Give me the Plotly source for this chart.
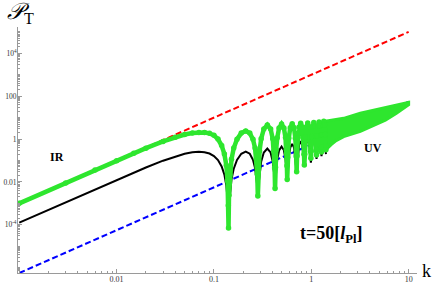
import plotly.graph_objects as go

# ---------------- data ----------------
red_k = [0.001, 10]
red_p = [0.001, 1.0e5]

blue_k = [0.001, 10]
blue_p = [5.6e-7, 56]

black_k = [0.001, 0.003, 0.006, 0.01, 0.02, 0.03, 0.04, 0.05, 0.06, 0.07, 0.08, 0.09, 0.1, 0.11, 0.12, 0.128, 0.134, 0.138, 0.1414,
           0.1428, 0.1456, 0.1513, 0.1598, 0.1725, 0.1909, 0.2121, 0.2333, 0.2517, 0.2644, 0.2729, 0.2786, 0.2814, 0.2828,
           0.2870, 0.2941, 0.3054, 0.3252, 0.3535, 0.3818, 0.4016, 0.4129, 0.4200, 0.4243,
           0.4285, 0.4356, 0.4469, 0.4667, 0.4950, 0.5233, 0.5431, 0.5544, 0.5615, 0.5657,
           0.5728, 0.5869, 0.6081, 0.6364, 0.6647, 0.6859, 0.7000, 0.7071,
           0.7142, 0.7283, 0.7495, 0.7778, 0.8061, 0.8273, 0.8414, 0.8485,
           0.8556, 0.8697, 0.8909, 0.9192, 0.9475, 0.9687, 0.9828, 0.9899,
           0.997, 1.0111, 1.0323, 1.0606, 1.0889, 1.1101, 1.1243, 1.1314,
           1.1385, 1.1526, 1.1738, 1.2021, 1.2304, 1.2516, 1.2657, 1.2728,
           1.2799, 1.294, 1.3152, 1.3435, 1.3718, 1.393, 1.4071, 1.4142]
black_p = [1.26e-4, 1.13e-3, 4.5e-3, 0.0124, 0.047, 0.098, 0.154, 0.205, 0.241, 0.255, 0.244, 0.211, 0.162, 0.105, 0.053, 0.022, 0.0068, 0.0014, 0.0005,
           0.00076, 0.0028, 0.0129, 0.0416, 0.106, 0.207, 0.26, 0.207, 0.108, 0.0445, 0.0162, 0.0063, 0.0043, 0.004,
           0.0072, 0.026, 0.087, 0.237, 0.36, 0.238, 0.089, 0.030, 0.011, 0.008,
           0.0119, 0.0354, 0.1105, 0.298, 0.45, 0.30, 0.118, 0.042, 0.019, 0.015,
           0.029, 0.136, 0.398, 0.6, 0.403, 0.147, 0.044, 0.03,
           0.049, 0.189, 0.534, 0.8, 0.541, 0.2, 0.069, 0.05,
           0.073, 0.246, 0.672, 1.0, 0.68, 0.27, 0.102, 0.08,
           0.107, 0.311, 0.814, 1.2, 0.827, 0.335, 0.146, 0.12,
           0.151, 0.384, 0.958, 1.4, 0.971, 0.42, 0.191, 0.16,
           0.195, 0.457, 1.103, 1.6, 1.117, 0.5, 0.239, 0.2]

green_k = [0.001, 0.003, 0.006, 0.01, 0.015, 0.02, 0.03, 0.04, 0.05, 0.06, 0.07, 0.08, 0.09, 0.1, 0.11, 0.12, 0.128, 0.134, 0.138, 0.1405, 0.1412,
           0.1428, 0.1456, 0.1513, 0.1598, 0.1725, 0.1909, 0.2121, 0.2333, 0.2517, 0.2644, 0.2729, 0.2786, 0.2824,
           0.2872, 0.2943, 0.3056, 0.3254, 0.3537, 0.3820, 0.4018, 0.4131, 0.4202, 0.4244,
           0.4286, 0.4357, 0.447, 0.4668, 0.495, 0.5233, 0.5432, 0.5545, 0.5615, 0.5657,
           0.5728, 0.5869, 0.6081, 0.6364, 0.6647, 0.6859, 0.7000, 0.7071,
           0.7142, 0.7283, 0.7495, 0.7778, 0.8061, 0.8273, 0.8414, 0.8485,
           0.8556, 0.8697, 0.8909, 0.9192, 0.9475, 0.9687, 0.9828, 0.9899,
           0.997, 1.0111, 1.0323, 1.0606, 1.0889, 1.1101, 1.1243, 1.1314,
           1.1385, 1.1526, 1.1738, 1.2021, 1.2304, 1.2516, 1.2657, 1.2728,
           1.2799, 1.294, 1.3152, 1.3435, 1.3718, 1.393, 1.4071, 1.4142]
green_p = [0.001, 0.009, 0.036, 0.098, 0.217, 0.375, 0.775, 1.22, 1.63, 1.9, 2.0, 2.04, 1.85, 1.5, 1.0, 0.5, 0.2, 0.06, 0.0114, 0.0008, 0.00007,
           0.0024, 0.021, 0.114, 0.38, 0.975, 1.9, 2.4, 1.9, 0.976, 0.381, 0.116, 0.023, 0.0022,
           0.043, 0.28, 1.04, 2.95, 4.5, 2.95, 1.04, 0.28, 0.045, 0.005,
           0.049, 0.315, 1.16, 3.28, 5.0, 3.28, 1.17, 0.32, 0.057, 0.013,
           0.14, 1.08, 3.41, 5.2, 3.42, 1.09, 0.155, 0.03,
           0.164, 1.16, 3.63, 5.5, 3.62, 1.18, 0.195, 0.062,
           0.198, 1.2, 3.69, 5.6, 3.71, 1.25, 0.26, 0.126,
           0.267, 1.31, 3.91, 5.9, 3.93, 1.36, 0.32, 0.18,
           0.33, 1.44, 4.19, 6.3, 4.21, 1.5, 0.39, 0.25,
           0.41, 1.58, 4.47, 6.7, 4.5, 1.64, 0.47, 0.32]

# UV region: oscillations too dense to resolve -> band between envelopes
band_top_k = [1.3435, 1.6, 2.15, 3.19, 4.5, 5.77, 7.5, 10]
band_top_p = [6.7, 7.5, 9.3, 16, 23, 30, 40, 52]
band_bot_k = [1.4142, 1.6, 1.8, 2.15, 3.19, 4.5, 5.77, 7.5, 10]
band_bot_p = [0.32, 0.55, 0.85, 1.3, 2.3, 4.5, 7.7, 16, 40]

x_tick_vals = [0.01, 0.1, 1, 10]
x_tick_text = ["0.01", "0.1", "1", "10"]
y_tick_vals = [1e-4, 1e-2, 1, 100, 1e4]
y_tick_text = ["10<sup>-4</sup>", "0.01", "1", "100", "10<sup>4</sup>"]

# ---------------- figure ----------------
GREEN = "#2ee62e"
AX = "#9a9a9a"
SERIF = "Liberation Serif"

fig = go.Figure()
fig.add_trace(go.Scatter(x=blue_k, y=blue_p, mode="lines",
                         line=dict(color="#0000ff", width=2, dash="6px,3px")))
fig.add_trace(go.Scatter(x=red_k, y=red_p, mode="lines",
                         line=dict(color="#ff0000", width=2, dash="6px,3px")))
fig.add_trace(go.Scatter(x=black_k, y=black_p, mode="lines",
                         line=dict(color="#000000", width=2)))
fig.add_trace(go.Scatter(x=band_top_k + band_bot_k[::-1], y=band_top_p + band_bot_p[::-1],
                         mode="lines", fill="toself", fillcolor=GREEN,
                         line=dict(color=GREEN, width=3)))
fig.add_trace(go.Scatter(x=green_k, y=green_p, mode="lines+markers",
                         line=dict(color=GREEN, width=4.5),
                         marker=dict(color=GREEN, size=5.5)))

def minor_vals(lo, hi):
    out = []
    for e in range(lo, hi + 1):
        for m in range(1, 10):
            out.append(m * 10.0 ** e)
    return out

axis_common = dict(type="log", showline=True, linecolor=AX, linewidth=1,
                   ticks="inside", ticklen=4, tickcolor=AX, tickwidth=1,
                   showgrid=False, zeroline=False, automargin=False)

fig.update_layout(
    width=436, height=285,
    margin=dict(l=18, r=19, t=27, b=12),
    paper_bgcolor="white", plot_bgcolor="white",
    showlegend=False,
    xaxis=dict(range=[-3.013, 1.086], tickmode="array", tickvals=x_tick_vals, ticktext=x_tick_text,
               ticklabelstandoff=-2,
               tickfont=dict(family=SERIF, size=8, color="#333333"),
               minor=dict(ticks="inside", ticklen=2, tickcolor=AX, tickmode="array",
                          tickvals=minor_vals(-3, 1), showgrid=False),
               **axis_common),
    yaxis=dict(range=[-6.25, 5.23], tickmode="array", tickvals=y_tick_vals, ticktext=y_tick_text,
               ticklabelstandoff=-1,
               tickfont=dict(family=SERIF, size=7.5, color="#333333"),
               minor=dict(ticks="inside", ticklen=2, tickcolor=AX, tickmode="array",
                          tickvals=minor_vals(-7, 5), showgrid=False),
               **axis_common),
)

def px2paper(px, py):
    return (px - 18) / 399.0, (273 - py) / 246.0

annos = [
    ("<i>𝒫</i><sub>T</sub>", 20, 13, 23),
    ("<b>IR</b>", 57, 157, 12),
    ("<b>UV</b>", 373, 148, 12),
    ("<b>t=50[<i>l</i><sub>Pl</sub>]</b>", 331, 235, 18),
    ("k", 426, 271, 18),
]
for txt, px, py, size in annos:
    ax_, ay_ = px2paper(px, py)
    fig.add_annotation(x=ax_, y=ay_, xref="paper", yref="paper", text=txt, showarrow=False,
                       xanchor="center", yanchor="middle",
                       font=dict(family=SERIF, size=size, color="#000000"))

# remove the default page margin so the 436x285 figure fills the window exactly
fig.write_html("out.html", config={"displayModeBar": False},
               post_script="document.body.style.margin='0';")
